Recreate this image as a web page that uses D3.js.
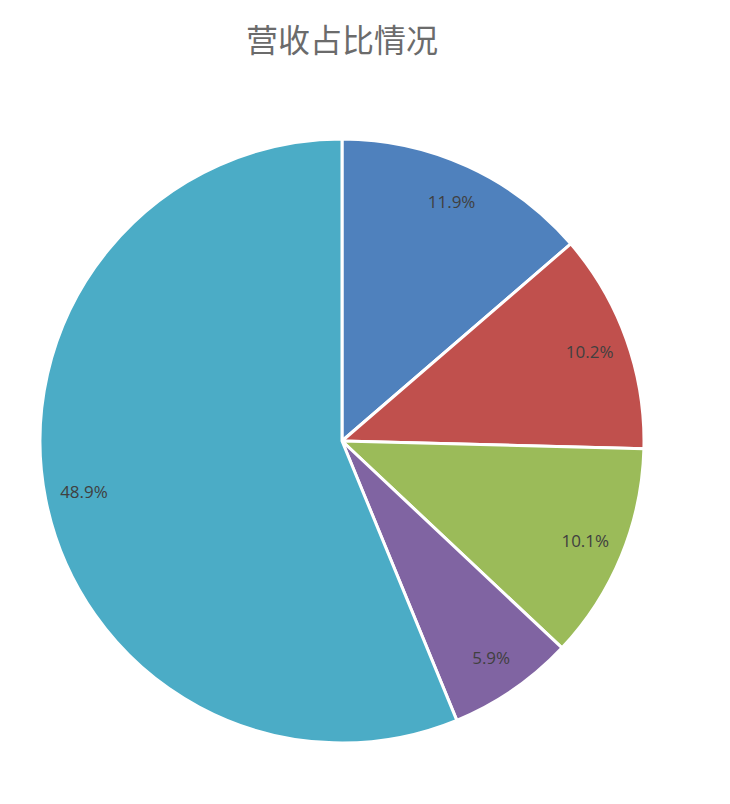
<!DOCTYPE html>
<html>
<head>
<meta charset="utf-8">
<script src="https://cdn.jsdelivr.net/npm/d3@7"></script>
<style>
  body { margin: 0; background: #fff; }
</style>
</head>
<body>
<svg id="chart"></svg>
<script>
const width = 730;
const height = 804;

// slice data, clockwise from 12 o'clock
const labels = ["11.9%", "10.2%", "10.1%", "5.9%", "48.9%"];
const values = [11.9, 10.2, 10.1, 5.9, 48.9];
const colors = ["#4f81bd", "#c0504d", "#9bbb59", "#8064a2", "#4bacc6"];

const svg = d3.select("#chart")
    .attr("width", width)
    .attr("height", height);

svg.append("text")
    .attr("x", 342)
    .attr("y", 52)
    .attr("text-anchor", "middle")
    .style("font-family", "'Noto Sans CJK SC', sans-serif")
    .style("font-size", "32px")
    .style("fill", "#6b6b6b")
    .text("营收占比情况");

const radius = 302;
const g = svg.append("g").attr("transform", "translate(342,441)");

const pie = d3.pie().sort(null).value(d => d);
const arcs = pie(values);

const arc = d3.arc().innerRadius(0).outerRadius(radius);
const labelArc = d3.arc().innerRadius(263).outerRadius(263);

g.selectAll("path")
    .data(arcs)
    .enter()
    .append("path")
    .attr("d", arc)
    .attr("fill", (d, i) => colors[i])
    .attr("stroke", "#fff")
    .attr("stroke-width", 3)
    .attr("stroke-linejoin", "round");

g.selectAll(".label")
    .data(arcs)
    .enter()
    .append("text")
    .attr("class", "label")
    .attr("transform", d => `translate(${labelArc.centroid(d)})`)
    .attr("text-anchor", "middle")
    .attr("dy", "0.35em")
    .style("font-family", "'Open Sans', sans-serif")
    .style("font-size", "17px")
    .style("fill", "#404040")
    .text((d, i) => labels[i]);
</script>
</body>
</html>
